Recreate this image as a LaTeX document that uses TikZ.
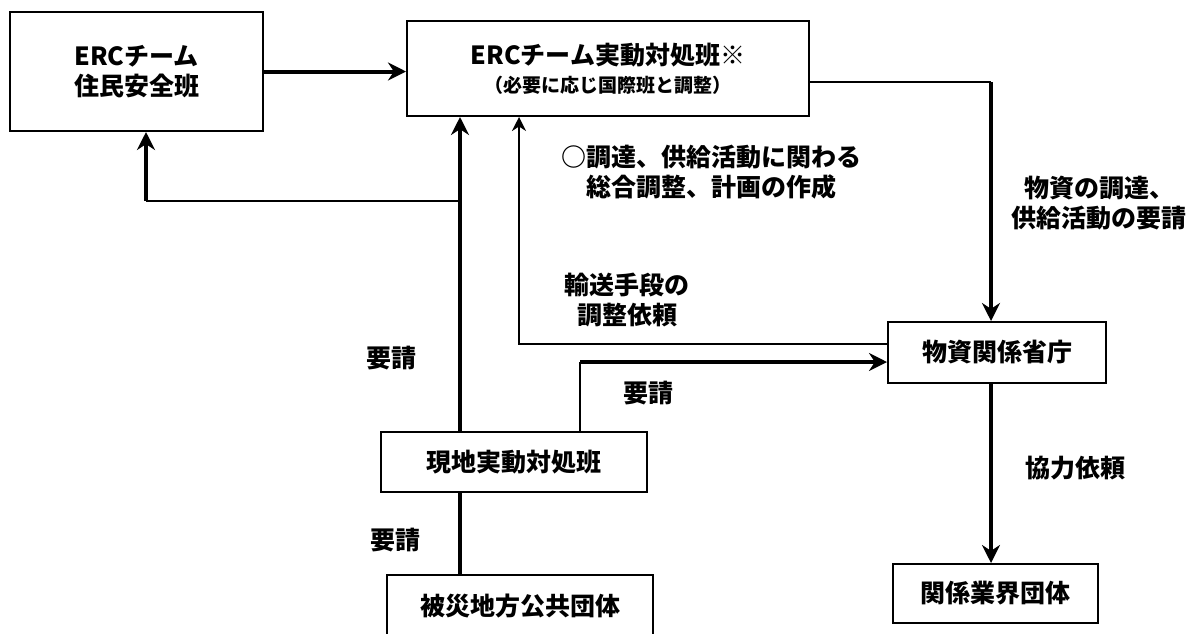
\documentclass[tikz,border=0pt]{standalone}
\usepackage{fontspec}
\setmainfont{Noto Sans CJK JP}
\usetikzlibrary{arrows.meta}

\tikzset{
    box/.style={draw, line width=1pt, align=center, inner sep=0pt,
        font=\bfseries\fontsize{12.5}{15}\selectfont},
    note/.style={align=center, inner sep=0pt,
        font=\bfseries\fontsize{12.5}{15}\selectfont},
    heavy-line/.style={line width=2pt},
    light-line/.style={line width=1pt},
    heavy-arrow/.style={line width=2pt, -{Stealth[length=9pt, width=9pt]}},
    light-arrow/.style={line width=1pt, -{Stealth[length=7pt, width=7pt]}},
}

\begin{document}
\begin{tikzpicture}[x=0.5pt, y=-0.5pt]
        % \draw[draw=black!20, step=50] (0, 0) grid (1192, 633);
        \useasboundingbox (0, 0) rectangle (1192, 633);

        \node[box, minimum width=126.5pt, minimum height=59.5pt] (anzen-han) at (136.5, 71.5) {ERCチーム\\住民安全班};
        \node[box, minimum width=201pt, minimum height=47.5pt] (jitsudo-han) at (608, 68.5)
            {ERCチーム実動対処班※\\[-1pt]{\fontsize{9.5}{12}\selectfont（必要に応じ国際班と調整）}};
        \node[box, minimum width=109pt, minimum height=30.5pt] (busshi-shocho) at (997, 352.5) {物資関係省庁};
        \node[box, minimum width=102.5pt, minimum height=29.5pt] (gyokai-dantai) at (995.5, 593.5) {関係業界団体};
        \node[box, minimum width=133pt, minimum height=30pt] (genchi-han) at (514, 462) {現地実動対処班};
        \node[box, minimum width=133pt, minimum height=31pt] (hisai-dantai) at (520, 606) {被災地方公共団体};

        \coordinate (trunk) at (460, 201);
        \coordinate (branch) at (146, 201);
        \coordinate (yuso) at (519, 344);
        \coordinate (yosei) at (580, 362);
        \coordinate (chotatsu) at (991, 82);

        \draw[heavy-arrow] (anzen-han.east) -- (anzen-han.east -| jitsudo-han.west);
        \draw[heavy-arrow] (genchi-han.north -| trunk) -- (jitsudo-han.south -| trunk);
        \draw[light-line] (trunk) -- (branch);
        \draw[heavy-arrow] (branch) -- (anzen-han.south -| branch);
        \draw[light-arrow] (busshi-shocho.west |- yuso) -- (yuso) -- (jitsudo-han.south -| yuso);
        \draw[light-line] (genchi-han.north -| yosei) -- (yosei);
        \draw[heavy-arrow] (yosei) -- (busshi-shocho.west |- yosei);
        \draw[light-line] (jitsudo-han.east |- chotatsu) -- (chotatsu);
        \draw[heavy-arrow] (chotatsu) -- (busshi-shocho.north -| chotatsu);
        \draw[heavy-arrow] (busshi-shocho.south -| chotatsu) -- (gyokai-dantai.north -| chotatsu);
        \draw[heavy-line] (genchi-han.south -| trunk) -- (hisai-dantai.north -| trunk);

        \node[note, align=left, anchor=west] (chosei-label) at (561, 172) {○調達、供給活動に関わる\\　総合調整、計画の作成};
        \node[note] (yosei-busshi-label) at (1099, 203) {物資の調達、\\供給活動の要請};
        \node[note] (yuso-label) at (627, 300) {輸送手段の\\調整依頼};
        \node[note] (kyoryoku-label) at (1075, 468) {協力依頼};
        \node[note] (yosei-erc-label) at (391, 358) {要請};
        \node[note] (yosei-shocho-label) at (648, 393) {要請};
        \node[note] (yosei-genchi-label) at (395, 540) {要請};

    \end{tikzpicture}
\end{document}
